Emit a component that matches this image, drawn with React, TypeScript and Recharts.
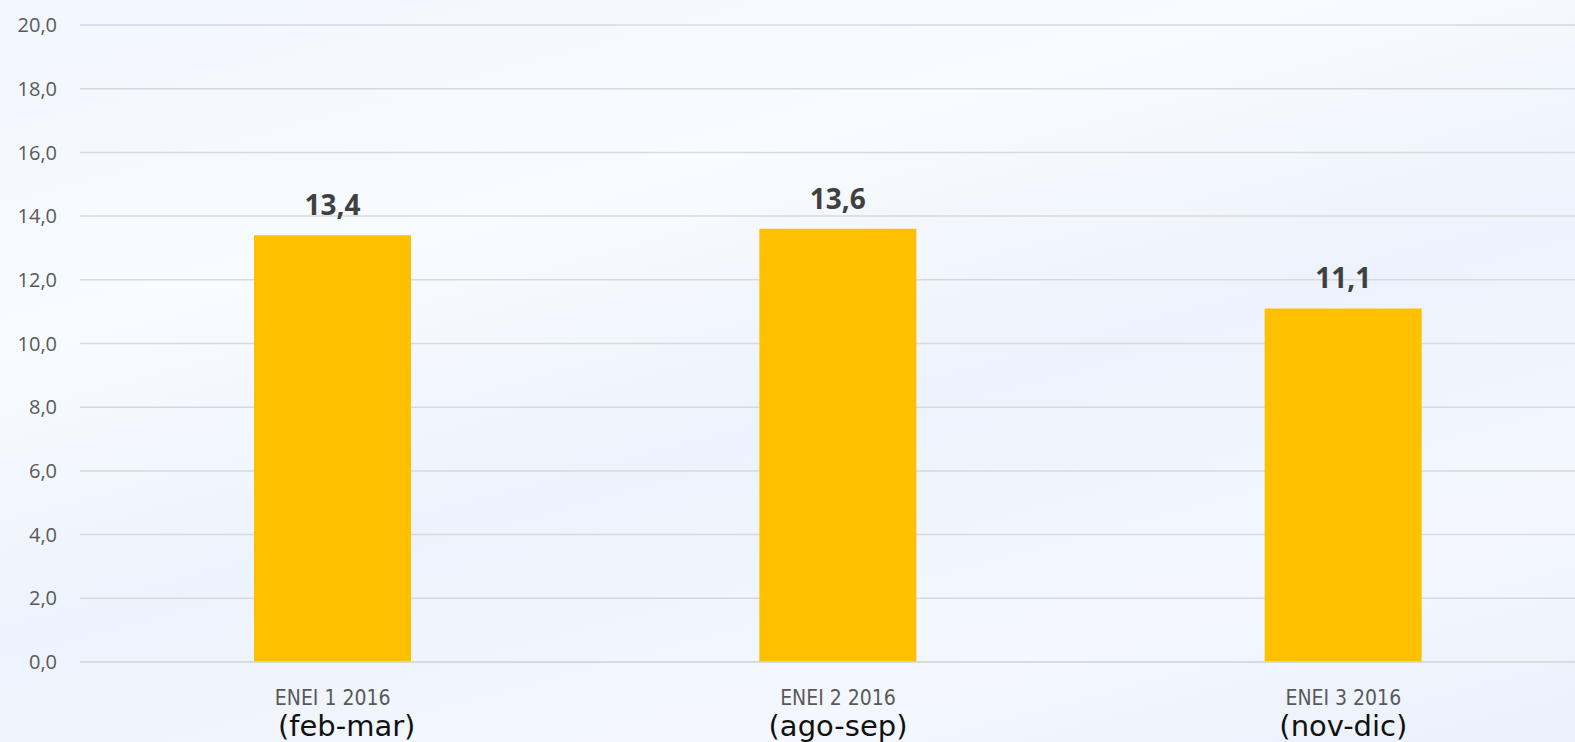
import { BarChart, Bar, XAxis, YAxis, CartesianGrid, LabelList } from 'recharts';

const categories = ['ENEI 1 2016', 'ENEI 2 2016', 'ENEI 3 2016'];
const periods = ['(feb-mar)', '(ago-sep)', '(nov-dic)'];
const values = [13.4, 13.6, 11.1];
const yTicks = [0, 2, 4, 6, 8, 10, 12, 14, 16, 18, 20];

const data = categories.map((name, i) => ({ name, period: periods[i], value: values[i] }));

const fmt = (v: number) => v.toFixed(1).replace('.', ',');

function CategoryTick(props: any) {
  const { x, y, payload, index } = props;
  const period = periods[index] ?? '';
  // the first period label sits a little right of its category in the original slide
  const shift = index === 0 ? 14 : 0;
  return (
    <g transform={`translate(${x},${y})`}>
      <text
        x={0}
        y={41}
        textAnchor="middle"
        fontFamily="'DejaVu Sans Condensed', 'DejaVu Sans', sans-serif"
        fontSize={21}
        fill="#595959"
      >
        {payload.value}
      </text>
      <text
        x={shift}
        y={72}
        textAnchor="middle"
        fontFamily="'DejaVu Sans', sans-serif"
        fontSize={29}
        fill="#111111"
      >
        {period}
      </text>
    </g>
  );
}

export default function App() {
  return (
    <div
      style={{
        position: 'fixed',
        left: 0,
        top: 0,
        width: 1575,
        height: 742,
        overflow: 'hidden',
        background: 'linear-gradient(165deg, #f2f7fe 0%, #f8fbff 30%, #edf3fc 55%, #f4f8fe 80%, #eaf1fb 100%)',
      }}
    >
      <BarChart
        width={1607}
        height={742}
        data={data}
        margin={{ top: 25, right: 11, bottom: 0, left: 0 }}
      >
        <CartesianGrid vertical={false} stroke="#d9d9d9" strokeWidth={1.5} />
        <XAxis
          dataKey="name"
          axisLine={{ stroke: '#d9d9d9', strokeWidth: 1.5 }}
          tickLine={false}
          tickSize={0}
          height={80}
          interval={0}
          tick={<CategoryTick />}
        />
        <YAxis
          domain={[0, 20]}
          ticks={yTicks}
          width={80}
          axisLine={false}
          tickLine={false}
          tickSize={0}
          tickMargin={23}
          tickFormatter={fmt}
          tick={{ fontSize: 20, fill: '#595959', fontFamily: "'Open Sans', sans-serif" }}
        />
        <Bar dataKey="value" fill="#FFC000" barSize={157} isAnimationActive={false}>
          <LabelList
            dataKey="value"
            position="top"
            offset={20}
            formatter={(v: any) => fmt(Number(v))}
            style={{ fontSize: 28, fontWeight: 700, fill: '#404040', fontFamily: "'Open Sans', sans-serif" }}
          />
        </Bar>
      </BarChart>
    </div>
  );
}
